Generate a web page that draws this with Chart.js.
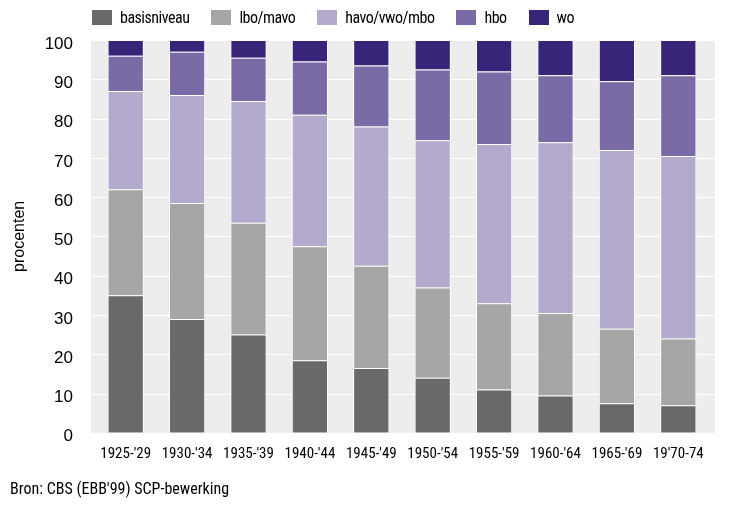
<!DOCTYPE html>
<html>
<head>
<meta charset="utf-8">
<script src="https://cdn.jsdelivr.net/npm/chart.js@4.4.0/dist/chart.umd.min.js"></script>
<style>
  body { margin: 0; background: #fff; }
  #wrap { position: relative; width: 735px; height: 505px; }
  #legend { position: absolute; left: 92px; top: 10px; display: flex; font: 16px "Roboto Condensed", "Liberation Sans", Arial, sans-serif; letter-spacing: -0.5px; color: #000; line-height: 15px; }
  #legend .item { display: flex; align-items: center; margin-right: 22px; }
  #legend .box { width: 20px; height: 15px; margin-right: 8px; }
</style>
</head>
<body>
<div id="wrap">
  <canvas id="chart" width="735" height="505"></canvas>
  <div id="legend"></div>
</div>
<script>
// geboortecohorten en opleidingsniveau (procenten)
const categories = ["1925-'29", "1930-'34", "1935-'39", "1940-'44", "1945-'49", "1950-'54", "1955-'59", "1960-'64", "1965-'69", "19'70-74"];
const basisniveau = [35, 29, 25, 18.5, 16.5, 14, 11, 9.5, 7.5, 7];
const lboMavo = [27, 29.5, 28.5, 29, 26, 23, 22, 21, 19, 17];
const havoVwoMbo = [25, 27.5, 31, 33.5, 35.5, 37.5, 40.5, 43.5, 45.5, 46.5];
const hbo = [9, 11, 11, 13.5, 15.5, 18, 18.5, 17, 17.5, 20.5];
const wo = [4, 3, 4.5, 5.5, 6.5, 7.5, 8, 9, 10.5, 9];
const yTicks = [0, 10, 20, 30, 40, 50, 60, 70, 80, 90, 100];

const narrow = '"Roboto Condensed", "Liberation Sans", Arial, sans-serif';
const regular = '"Liberation Sans", Arial, sans-serif';

// grijze achtergrond + witte rasterlijnen, iets breder dan het chartArea
const plotBg = {
    id: 'plotBg',
    beforeDatasetsDraw(chart) {
        const ctx = chart.ctx;
        const a = chart.chartArea;
        const y = chart.scales.y;
        const l = a.left - 4, r = a.right + 6;
        ctx.save();
        ctx.fillStyle = '#ededed';
        ctx.fillRect(l, a.top, r - l, a.bottom - a.top);
        ctx.strokeStyle = '#ffffff';
        ctx.lineWidth = 1;
        yTicks.forEach(v => {
            const py = Math.round(y.getPixelForValue(v)) + 0.5;
            ctx.beginPath();
            ctx.moveTo(l, py);
            ctx.lineTo(r, py);
            ctx.stroke();
        });
        ctx.restore();
    }
};

function ds(label, data, color) {
    return {
        label: label,
        data: data,
        backgroundColor: color,
        borderColor: '#ffffff',
        borderWidth: 1,
        barPercentage: 0.59,
        categoryPercentage: 1
    };
}

let chart = new Chart(document.getElementById('chart').getContext('2d'), {
    type: 'bar',
    data: {
        labels: categories,
        datasets: [
            ds('basisniveau', basisniveau, '#696969'),
            ds('lbo/mavo', lboMavo, '#a6a6a6'),
            ds('havo/vwo/mbo', havoVwoMbo, '#b4aacd'),
            ds('hbo', hbo, '#7a6aa6'),
            ds('wo', wo, '#38257a')
        ]
    },
    options: {
        responsive: false,
        animation: false,
        layout: { padding: { left: 10, right: 26, top: 40, bottom: 0 } },
        plugins: {
            legend: { display: false },
            tooltip: { enabled: false },
            subtitle: {
                display: true,
                text: "Bron: CBS (EBB'99) SCP-bewerking",
                position: 'bottom',
                align: 'start',
                color: '#000',
                font: { family: narrow, size: 16 },
                padding: { top: 18, bottom: 5 }
            }
        },
        scales: {
            x: {
                stacked: true,
                grid: { display: false, drawTicks: false },
                border: { display: false },
                ticks: { color: '#000', font: { family: narrow, size: 15 }, padding: 12, maxRotation: 0, autoSkip: false },
                afterFit(s) { s.height = 30; }
            },
            y: {
                stacked: true,
                min: 0,
                max: 100,
                grid: { display: false, drawTicks: false },
                border: { display: false },
                afterBuildTicks(s) { s.ticks = yTicks.map(v => ({ value: v })); },
                ticks: { color: '#000', font: { family: regular, size: 17 }, padding: 22, labelOffset: 4 },
                title: { display: true, text: 'procenten', color: '#000', font: { family: regular, size: 16 }, padding: 0 },
                afterFit(s) { s.width = 85; }
            }
        }
    },
    plugins: [plotBg]
});

// legenda als html, opgebouwd uit de datasets
let legend = document.getElementById('legend');
chart.data.datasets.forEach(d => {
    let item = document.createElement('div');
    item.className = 'item';
    item.innerHTML = '<span class="box" style="background:' + d.backgroundColor + '"></span><span>' + d.label + '</span>';
    legend.appendChild(item);
});
</script>
</body>
</html>
